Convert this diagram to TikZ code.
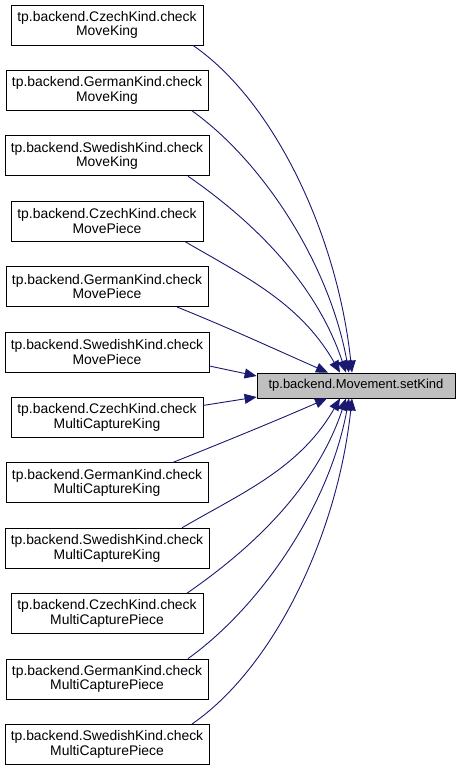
\documentclass[tikz,border=0pt]{standalone}
\usepackage{fontspec}
\setmainfont{Liberation Sans}
\usetikzlibrary{arrows.meta}
\definecolor{edgeblue}{HTML}{191970}
\definecolor{targetgray}{HTML}{BFBFBF}
\begin{document}
\begin{tikzpicture}[x=1pt,y=-1pt,
  fn/.style={draw=black, line width=0.8pt, fill=white, minimum height=40pt,
    inner xsep=0pt, inner ysep=0pt, align=center,
    font=\fontsize{13.9}{14.5}\selectfont},
  cz/.style={fn, minimum width=192pt},
  ge/.style={fn, minimum width=202pt},
  sw/.style={fn, minimum width=204pt},
  tgt/.style={draw=black, line width=0.8pt, fill=targetgray, minimum width=198pt,
    minimum height=25pt, inner sep=0pt, font=\fontsize{13}{14}\selectfont},
  edge/.style={draw=edgeblue, line width=0.9pt, -{Triangle[length=12pt,width=10pt]}}
]
\useasboundingbox (0,0) rectangle (460,771);

\node[cz] (c1) at (107,25)    {tp.backend.CzechKind.check\\MoveKing};
\node[ge] (g1) at (107,90.4)  {tp.backend.GermanKind.check\\MoveKing};
\node[sw] (s1) at (107,155.8) {tp.backend.SwedishKind.check\\MoveKing};
\node[cz] (c2) at (107,221.2) {tp.backend.CzechKind.check\\MovePiece};
\node[ge] (g2) at (107,286.6) {tp.backend.GermanKind.check\\MovePiece};
\node[sw] (s2) at (107,352)   {tp.backend.SwedishKind.check\\MovePiece};
\node[cz] (c3) at (107,417.4) {tp.backend.CzechKind.check\\MultiCaptureKing};
\node[ge] (g3) at (107,482.8) {tp.backend.GermanKind.check\\MultiCaptureKing};
\node[sw] (s3) at (107,548.2) {tp.backend.SwedishKind.check\\MultiCaptureKing};
\node[cz] (c4) at (107,613.6) {tp.backend.CzechKind.check\\MultiCapturePiece};
\node[ge] (g4) at (107,679)   {tp.backend.GermanKind.check\\MultiCapturePiece};
\node[sw] (s4) at (107,744.4) {tp.backend.SwedishKind.check\\MultiCapturePiece};

\node[tgt] (t) at (356,385.5) {tp.backend.Movement.setKind};

\draw[edge] ([xshift=86pt]c1.south) .. controls +(80,55) and +(-15,-140) .. ([xshift=-4pt]t.north);
\draw[edge] ([xshift=85pt]g1.south) .. controls +(70,50) and +(-20,-110) .. ([xshift=-7pt]t.north);
\draw[edge] ([xshift=81pt]s1.south) .. controls +(65,45) and +(-30,-90) .. ([xshift=-10pt]t.north);
\draw[edge] ([xshift=78pt]c2.south) .. controls +(60,35) and +(-40,-70) .. ([xshift=-16pt]t.north);
\draw[edge] ([xshift=70pt]g2.south) .. controls +(50,20) and +(-50,-22) .. ([xshift=-28pt]t.north);
\draw[edge] ([yshift=-14pt]s2.east) -- ([yshift=9.5pt]t.west);
\draw[edge] ([yshift=12pt]c3.east) -- ([yshift=-11.5pt]t.west);
\draw[edge] ([xshift=66pt]g3.north) .. controls +(50,-20) and +(-50,22) .. ([xshift=-29pt]t.south);
\draw[edge] ([xshift=75pt]s3.north) .. controls +(60,-35) and +(-40,70) .. ([xshift=-16pt]t.south);
\draw[edge] ([xshift=80pt]c4.north) .. controls +(65,-45) and +(-30,90) .. ([xshift=-10pt]t.south);
\draw[edge] ([xshift=81pt]g4.north) .. controls +(70,-50) and +(-20,110) .. ([xshift=-7pt]t.south);
\draw[edge] ([xshift=85pt]s4.north) .. controls +(80,-55) and +(-15,140) .. ([xshift=-4pt]t.south);
\end{tikzpicture}
\end{document}
